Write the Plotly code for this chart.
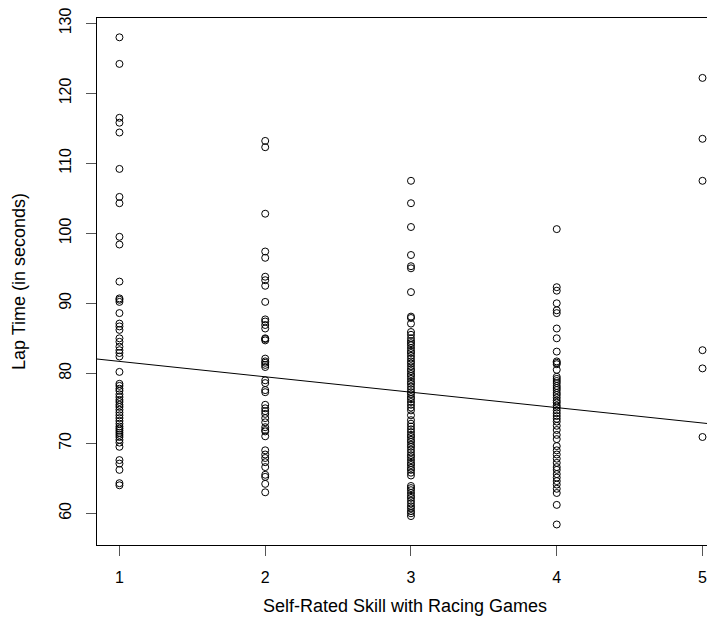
import plotly.graph_objects as go

skill_levels = [1, 2, 3, 4, 5]

lap_times_1 = [128.0, 124.2, 116.5, 115.8, 114.4, 109.2, 105.2, 104.3, 99.5, 98.4,
               93.1, 90.7, 90.5, 90.2, 88.6, 87.1, 86.7, 86.2, 85.0, 84.5, 83.8, 83.3,
               82.9, 82.4, 80.2, 78.5, 78.2, 77.8, 77.5, 77.0, 76.6, 76.2, 75.9, 75.5,
               75.2, 74.8, 74.4, 74.0, 73.6, 73.2, 72.8, 72.4, 72.1, 71.8, 71.5, 71.2,
               70.9, 70.5, 70.1, 69.5, 67.6, 67.1, 66.2, 64.3, 64.0]
lap_times_2 = [113.2, 112.3, 102.8, 97.4, 96.5, 93.8, 93.3, 92.5, 90.2, 87.7, 87.4,
               86.9, 86.4, 85.0, 84.9, 84.7, 82.1, 81.7, 81.5, 81.2, 80.9, 79.0, 78.6,
               77.6, 77.3, 75.5, 75.0, 74.6, 74.2, 73.6, 73.0, 72.3, 71.9, 71.7, 71.0,
               69.0, 68.4, 67.9, 67.3, 66.6, 65.5, 65.2, 64.2, 63.0]
lap_times_3 = [107.5, 104.3, 100.9, 96.9, 95.3, 95.0, 91.6, 88.1, 87.9, 87.1, 85.9,
               85.5, 85.0, 84.6, 84.3, 84.0, 83.6, 83.2, 82.9, 82.5, 82.1, 81.7, 81.4,
               81.0, 80.6, 80.3, 79.9, 79.6, 79.2, 78.8, 78.5, 78.1, 77.7, 77.3, 77.0,
               76.6, 76.3, 75.9, 75.5, 75.1, 74.7, 74.0, 73.3, 72.8, 72.4, 72.0, 71.6,
               71.2, 70.9, 70.5, 70.2, 69.8, 69.5, 69.1, 68.7, 68.3, 68.0, 67.6, 67.2,
               66.9, 66.5, 66.2, 65.8, 65.4, 63.9, 63.6, 63.3, 62.9, 62.5, 62.2, 61.8,
               61.4, 61.0, 60.7, 60.3, 60.0, 59.6]
lap_times_4 = [100.6, 92.3, 91.8, 90.0, 89.0, 88.6, 86.4, 85.0, 83.1, 81.7, 81.5,
               81.3, 80.5, 79.5, 79.2, 78.9, 78.6, 78.2, 77.9, 77.6, 77.2, 76.9, 76.5,
               76.1, 75.8, 75.4, 75.1, 74.7, 74.3, 73.9, 73.5, 73.1, 72.5, 71.9, 71.2,
               70.6, 69.6, 69.0, 68.4, 67.8, 67.2, 66.6, 66.2, 65.6, 65.1, 64.6, 64.1,
               63.5, 62.9, 61.2, 58.4]
lap_times_5 = [122.2, 113.5, 107.5, 83.3, 80.7, 70.9]

fit_intercept = 83.9
fit_slope = -2.2

x_ticks = [1, 2, 3, 4, 5]
y_ticks = [60, 70, 80, 90, 100, 110, 120, 130]

groups = [lap_times_1, lap_times_2, lap_times_3, lap_times_4, lap_times_5]
xs, ys = [], []
for lvl, vals in zip(skill_levels, groups):
    xs += [lvl] * len(vals)
    ys += vals

x_range = [0.846, 5.072]
y_range = [55.47, 130.76]

fig = go.Figure()
fig.add_trace(go.Scatter(
    x=xs, y=ys, mode="markers",
    marker=dict(symbol="circle-open", size=7, color="black", line=dict(width=1)),
    showlegend=False, hoverinfo="skip", cliponaxis=False))
fig.add_trace(go.Scatter(
    x=x_range, y=[fit_intercept + fit_slope * v for v in x_range], mode="lines",
    line=dict(color="black", width=1), showlegend=False, hoverinfo="skip"))

tick_font = dict(family="Liberation Sans, Arial, sans-serif", size=16, color="black")
title_font = dict(family="Liberation Sans, Arial, sans-serif", size=18, color="black")

fig.update_layout(
    width=707, height=623,
    margin=dict(l=89, r=2, t=10, b=86),
    paper_bgcolor="white", plot_bgcolor="white",
    font=tick_font,
)
fig.update_xaxes(
    range=x_range, tickvals=x_ticks, ticktext=[str(v) for v in x_ticks],
    showgrid=False, zeroline=False, showline=True, linecolor="black", linewidth=1,
    mirror=True, ticks="outside", ticklen=10, tickcolor="#555555", tickfont=tick_font,
    ticklabelstandoff=8, automargin=False, ticklabeloverflow="allow",
    title=dict(text="Self-Rated Skill with Racing Games", font=title_font, standoff=14),
)
fig.update_yaxes(
    range=y_range, tickvals=y_ticks, ticktext=[str(v) for v in y_ticks],
    showgrid=False, zeroline=False, showline=True, linecolor="black", linewidth=1,
    mirror=True, ticks="outside", ticklen=10, tickcolor="#555555", tickfont=tick_font,
    tickangle=-90, ticklabelstandoff=9, automargin=False, ticklabeloverflow="allow",
    title=dict(text="Lap Time (in seconds)", font=title_font, standoff=26),
)

fig.write_html("out.html")
